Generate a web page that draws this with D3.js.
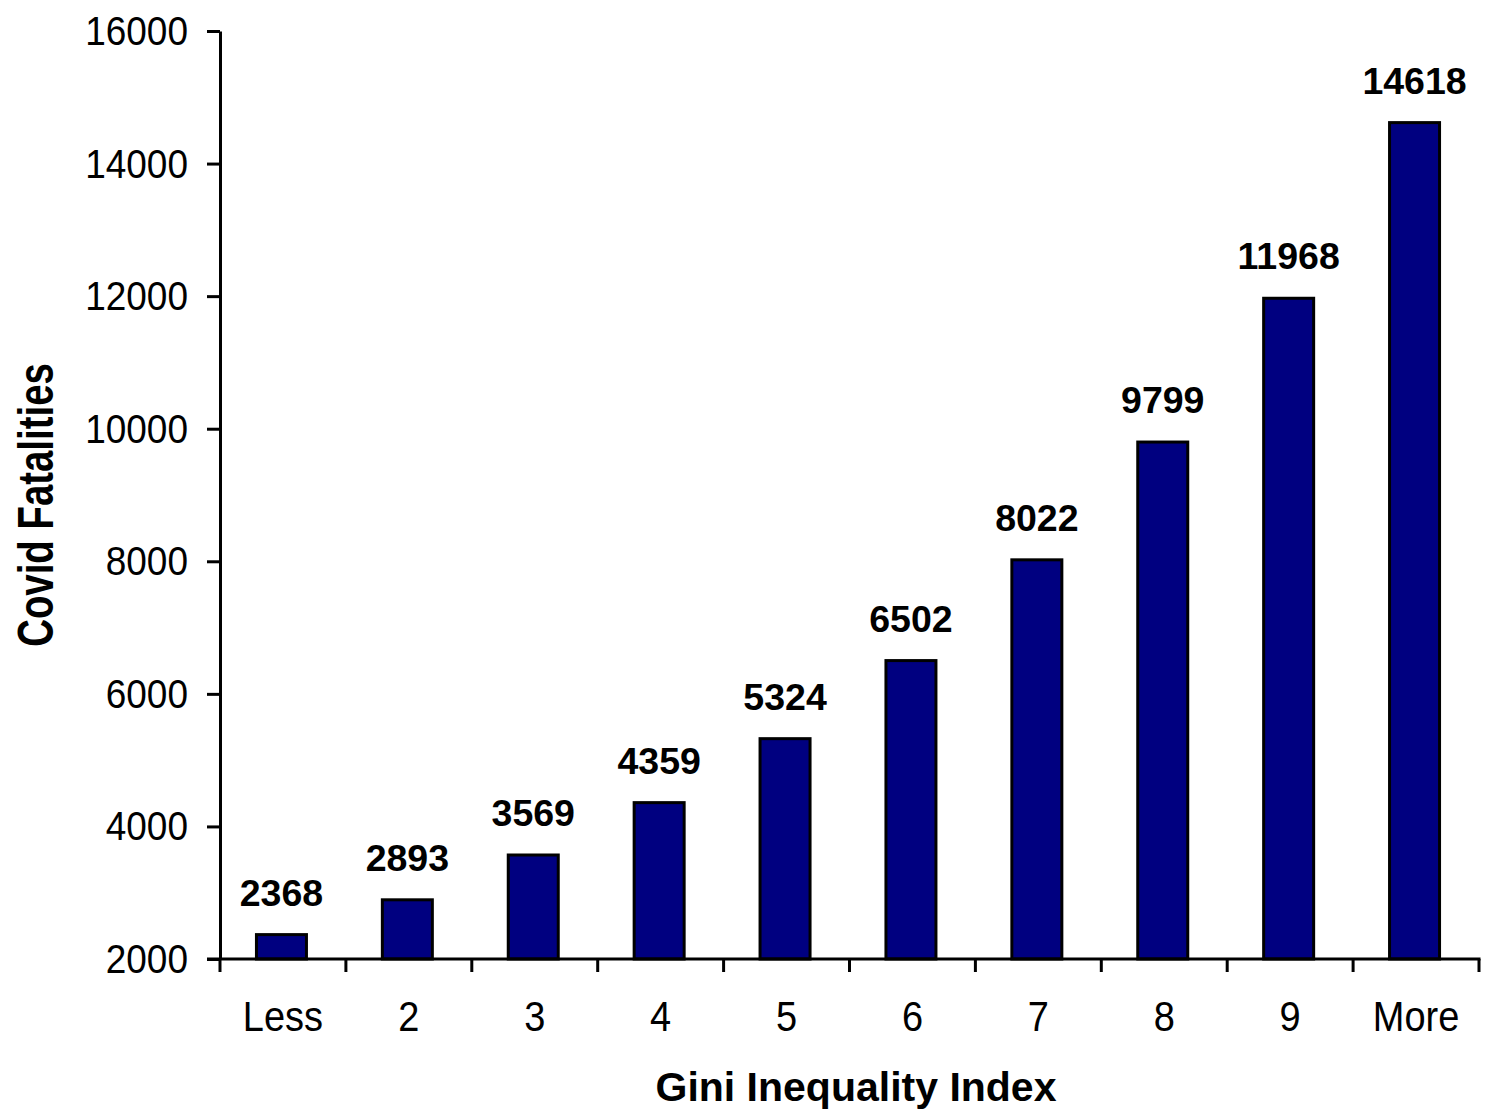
<!DOCTYPE html>
<html>
<head>
<meta charset="utf-8">
<script src="https://cdn.jsdelivr.net/npm/d3@7/dist/d3.min.js"></script>
<style>
  html, body { margin: 0; padding: 0; background: #fff; }
  svg { display: block; }
  text { font-family: "Liberation Sans", Arial, sans-serif; fill: #000; }
</style>
</head>
<body>
<script>
// Histogram of Covid fatalities by Gini inequality bin
const categories = ["Less", "2", "3", "4", "5", "6", "7", "8", "9", "More"];
const fatalities = [2368, 2893, 3569, 4359, 5324, 6502, 8022, 9799, 11968, 14618];
const yTicks = [2000, 4000, 6000, 8000, 10000, 12000, 14000, 16000];
const xTitle = "Gini Inequality Index";
const yTitle = "Covid Fatalities";

const W = 1486, H = 1113;
const svg = d3.select("body").append("svg")
  .attr("width", W).attr("height", H);

const x = d3.scaleBand().domain(categories).range([220, 1479]).paddingInner(0).paddingOuter(0);
const y = d3.scaleLinear().domain([2000, 16000]).range([959, 31]);

const barW = 50;

// bars
svg.append("g").selectAll("rect")
  .data(categories.map((c, i) => ({ c, v: fatalities[i] })))
  .join("rect")
  .attr("x", d => x(d.c) + x.bandwidth() / 2 - barW / 2 - 1.5)
  .attr("y", d => y(d.v))
  .attr("width", barW)
  .attr("height", d => y(2000) - y(d.v))
  .attr("fill", "#000080")
  .attr("stroke", "#000")
  .attr("stroke-width", 3);

// value labels
svg.append("g").selectAll("text")
  .data(categories.map((c, i) => ({ c, v: fatalities[i] })))
  .join("text")
  .attr("x", d => x(d.c) + x.bandwidth() / 2 - 1.5)
  .attr("y", d => y(d.v) - 29)
  .attr("text-anchor", "middle")
  .attr("font-size", 37.5)
  .attr("font-weight", "bold")
  .text(d => d.v);

// y axis
const yAxis = svg.append("g")
  .attr("transform", "translate(220,0)")
  .call(d3.axisLeft(y).tickValues(yTicks).tickSize(13).tickSizeOuter(0).tickFormat(d3.format("d")));
yAxis.select(".domain").attr("stroke-width", 3).attr("stroke", "#000");
yAxis.selectAll(".tick line").attr("stroke-width", 3).attr("stroke", "#000");
yAxis.selectAll(".tick text")
  .attr("x", null).attr("dy", null).attr("y", null)
  .attr("font-family", "Liberation Sans, Arial, sans-serif")
  .attr("font-size", 37)
  .attr("text-anchor", "end")
  .attr("transform", "translate(-32,13.5) scale(1,1.12)");

// x axis baseline and bin boundary ticks
const xg = svg.append("g");
xg.append("line")
  .attr("x1", 207).attr("x2", x.range()[1] + 1.5)
  .attr("y1", y(2000)).attr("y2", y(2000))
  .attr("stroke", "#000").attr("stroke-width", 3);
const bounds = categories.map(c => x(c)).concat([x.range()[1]]);
xg.selectAll("line.b").data(bounds).join("line")
  .attr("class", "b")
  .attr("x1", d => d).attr("x2", d => d)
  .attr("y1", y(2000)).attr("y2", y(2000) + 13)
  .attr("stroke", "#000").attr("stroke-width", 3);

// category labels
xg.selectAll("text").data(categories).join("text")
  .attr("text-anchor", "middle")
  .attr("font-size", 38)
  .attr("transform", d => `translate(${x(d) + x.bandwidth() / 2},1031) scale(1,1.12)`)
  .text(d => d);

// axis titles
svg.append("text")
  .attr("x", 856).attr("y", 1101)
  .attr("text-anchor", "middle")
  .attr("font-size", 41)
  .attr("font-weight", "bold")
  .text(xTitle);

svg.append("text")
  .attr("text-anchor", "middle")
  .attr("font-size", 38.4)
  .attr("font-weight", "bold")
  .attr("transform", "translate(53,505) rotate(-90) scale(1,1.3)")
  .text(yTitle);
</script>
</body>
</html>
